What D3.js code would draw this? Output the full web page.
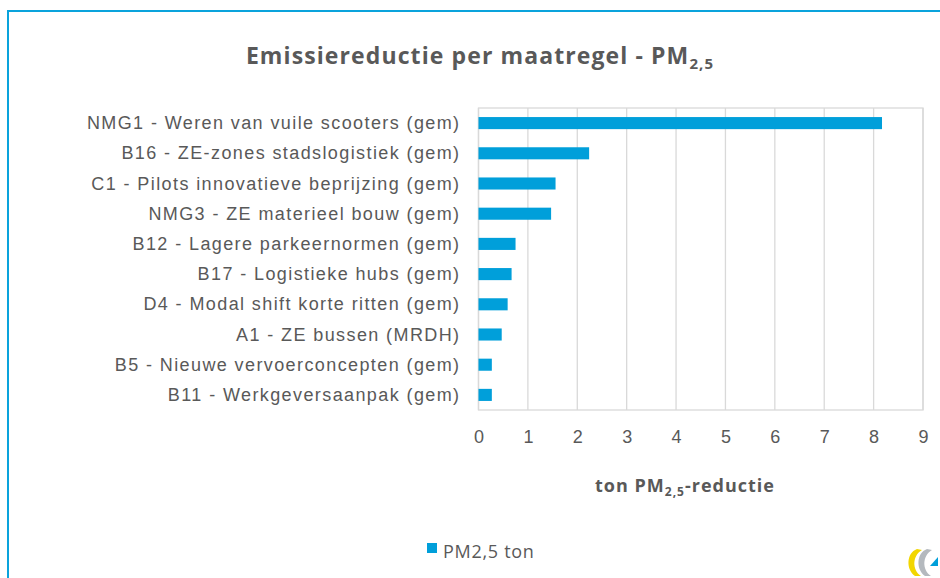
<!DOCTYPE html>
<html lang="nl">
<head>
<meta charset="utf-8">
<title>Emissiereductie per maatregel - PM2,5</title>
<script src="https://cdn.jsdelivr.net/npm/d3@7"></script>
<style type="text/css">
  body { margin: 0; background: #fff; }
  svg { display: block; font-family: 'Open Sans', sans-serif; }
</style>
</head>
<body>
<div id="chart"></div>
<script>

/* Data */
/* ==== */

var categories = [
  'NMG1 - Weren van vuile scooters (gem)',
  'B16 - ZE-zones stadslogistiek (gem)',
  'C1 - Pilots innovatieve beprijzing (gem)',
  'NMG3 - ZE materieel bouw (gem)',
  'B12 - Lagere parkeernormen (gem)',
  'B17 - Logistieke hubs (gem)',
  'D4 - Modal shift korte ritten (gem)',
  'A1 - ZE bussen (MRDH)',
  'B5 - Nieuwe vervoerconcepten (gem)',
  'B11 - Werkgeversaanpak (gem)'
];

var pmValues = [8.17, 2.24, 1.56, 1.47, 0.75, 0.67, 0.59, 0.47, 0.27, 0.27];

var xTicks = [0, 1, 2, 3, 4, 5, 6, 7, 8, 9];

var seriesName = 'PM2,5 ton';


/* Setup */
/* ===== */

var width = 940,
    height = 578,
    textColor = '#595959',
    barColor = '#009FDA',
    gridColor = '#D9D9D9';

var plot = { left: 478.5, right: 923, top: 108, bottom: 410 };

var svg = d3.select('#chart').append('svg')
    .attr('width', width)
    .attr('height', height);

// Chart frame
svg.append('rect')
    .attr('x', 8)
    .attr('y', 11)
    .attr('width', width)
    .attr('height', height)
    .attr('fill', 'none')
    .attr('stroke', '#0AA3DC')
    .attr('stroke-width', 2);

var x = d3.scaleLinear()
    .domain([0, 9])
    .range([plot.left, plot.right]);

var y = d3.scaleBand()
    .domain(categories)
    .range([plot.top, plot.bottom])
    .paddingInner(0.6)
    .paddingOuter(0.3);


/* Gridlines and frame of the plot */
/* ------------------------------- */

svg.append('g')
    .selectAll('line')
    .data(xTicks)
    .enter().append('line')
    .attr('x1', function(d) { return x(d); })
    .attr('x2', function(d) { return x(d); })
    .attr('y1', plot.top)
    .attr('y2', plot.bottom)
    .attr('stroke', gridColor)
    .attr('stroke-width', 1.3);

svg.append('rect')
    .attr('x', plot.left)
    .attr('y', plot.top)
    .attr('width', plot.right - plot.left)
    .attr('height', plot.bottom - plot.top)
    .attr('fill', 'none')
    .attr('stroke', gridColor)
    .attr('stroke-width', 1.3);


/* Bars */
/* ---- */

svg.append('g')
    .selectAll('rect')
    .data(pmValues)
    .enter().append('rect')
    .attr('x', x(0))
    .attr('y', function(d, i) { return y(categories[i]); })
    .attr('width', function(d) { return x(d) - x(0); })
    .attr('height', y.bandwidth())
    .attr('fill', barColor);


/* Axes */
/* ---- */

var xAxis = svg.append('g')
    .attr('transform', 'translate(0,' + plot.bottom + ')')
    .call(d3.axisBottom(x).tickValues(xTicks).tickSize(0).tickPadding(20));

xAxis.select('.domain').remove();
xAxis.selectAll('text')
    .attr('fill', textColor)
    .style('font-size', '18px');

var yAxis = svg.append('g')
    .attr('transform', 'translate(' + (plot.left - 18) + ',0)')
    .call(d3.axisLeft(y).tickSize(0).tickPadding(0));

yAxis.select('.domain').remove();
yAxis.selectAll('text')
    .attr('fill', textColor)
    .attr('dy', '0.34em')
    .style('font-size', '18px')
    .style('letter-spacing', '1.4px');


/* Titles */
/* ------ */

var title = svg.append('text')
    .attr('x', 480)
    .attr('y', 64)
    .attr('text-anchor', 'middle')
    .attr('fill', textColor)
    .style('font-size', '23px')
    .style('font-weight', 'bold')
    .style('letter-spacing', '1.1px');

title.append('tspan').text('Emissiereductie per maatregel - PM');
title.append('tspan').attr('dy', 5).style('font-size', '15px').text('2,5');

var axisTitle = svg.append('text')
    .attr('x', 685)
    .attr('y', 492)
    .attr('text-anchor', 'middle')
    .attr('fill', textColor)
    .style('font-size', '18px')
    .style('font-weight', 'bold')
    .style('letter-spacing', '1px');

axisTitle.append('tspan').text('ton PM');
axisTitle.append('tspan').attr('dy', 4).style('font-size', '12px').text('2,5');
axisTitle.append('tspan').attr('dy', -4).text('-reductie');


/* Legend */
/* ------ */

var legend = svg.append('g')
    .attr('transform', 'translate(427,543)');

legend.append('rect')
    .attr('width', 10)
    .attr('height', 10)
    .attr('fill', barColor);

legend.append('text')
    .attr('x', 16)
    .attr('y', 15)
    .attr('fill', textColor)
    .style('font-size', '18px')
    .style('letter-spacing', '0.7px')
    .text(seriesName);


/* Logo */
/* ---- */

var logo = svg.append('g')
    .attr('transform', 'translate(906,548)');

// yellow crescent
logo.append('path')
    .attr('d', 'M11,1 C0,5 0,22 9,28 L15,28 C6,22 6,8 16,2 Z')
    .attr('fill', '#F2D600');
// grey crescent
logo.append('path')
    .attr('d', 'M21,1 C10,5 10,22 19,28 L25,28 C16,22 16,8 26,2 Z')
    .attr('fill', '#B4B9BE');
// blue triangle
logo.append('path')
    .attr('d', 'M24,18 L32,9 L32,18 Z')
    .attr('fill', barColor);

</script>
</body>
</html>
